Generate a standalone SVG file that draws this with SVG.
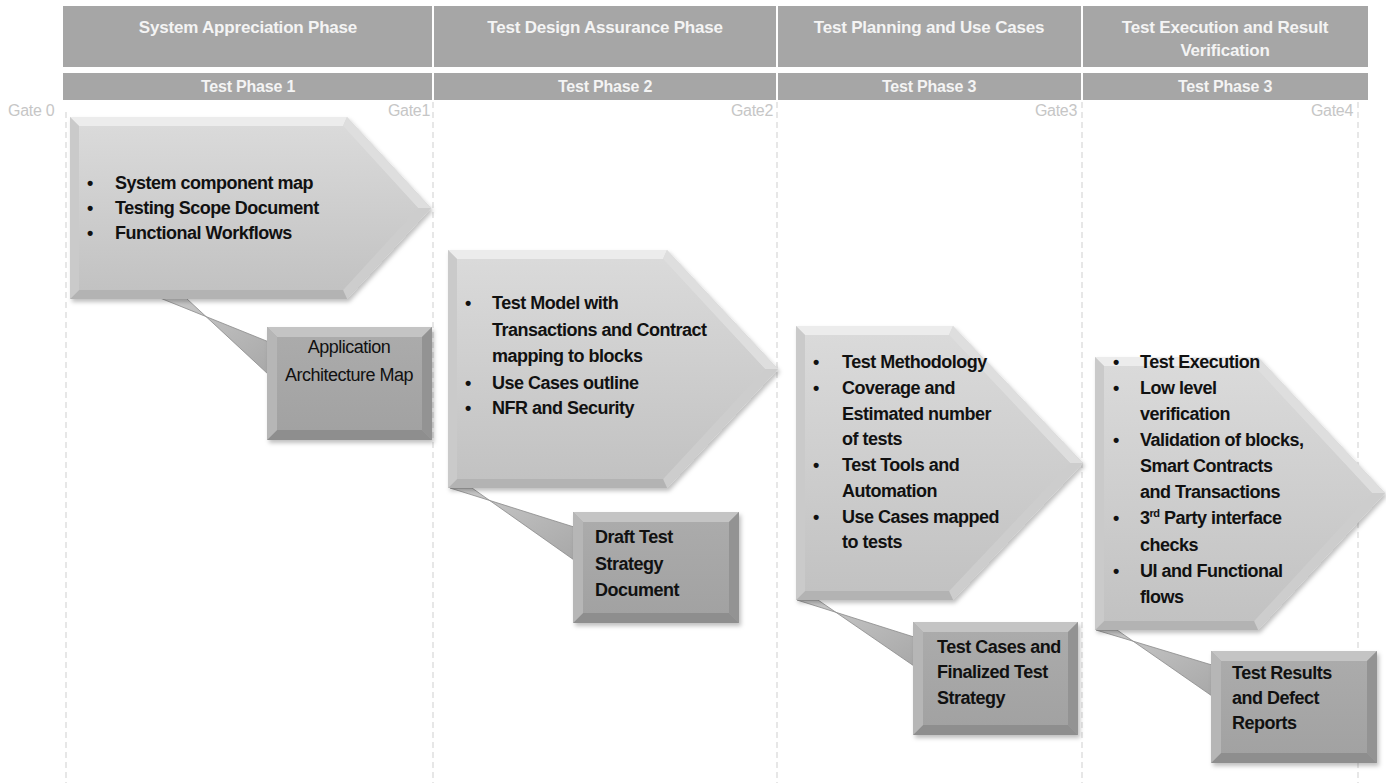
<svg xmlns="http://www.w3.org/2000/svg" width="1386" height="783" viewBox="0 0 1386 783">
<style>
.hdr{fill:#a6a6a6}
.ht{font-family:"Liberation Sans Narrow","Liberation Sans",Arial,sans-serif;font-weight:bold;fill:#f4f4f4;text-anchor:middle;letter-spacing:-0.2px}
.gate{font-family:"Liberation Sans Narrow","Liberation Sans",Arial,sans-serif;font-size:16px;fill:#c6c6c6;letter-spacing:-0.3px}
.dash{stroke:#cfcfcf;stroke-width:1;stroke-dasharray:6 4;fill:none}
.bt{font-family:"Liberation Sans Narrow","Liberation Sans",Arial,sans-serif;font-weight:bold;font-size:18px;fill:#111;letter-spacing:-0.5px}
.pf-top{fill:#ececec}.pf-ur{fill:#dedede}.pf-lr{fill:#cdcdcd}.pf-bot{fill:#b3b3b3}.pf-left{fill:#cacaca}
.bx-top{fill:#c4c4c4}.bx-left{fill:#b6b6b6}.bx-right{fill:#939393}.bx-bot{fill:#8e8e8e}
.tail{fill:url(#gTail);stroke:#8a8a8a;stroke-width:0.8}
</style>
<defs>
<linearGradient id="gFace" x1="0" y1="0" x2="0" y2="1"><stop offset="0" stop-color="#dadada"/><stop offset="1" stop-color="#c2c2c2"/></linearGradient>
<linearGradient id="gBox" x1="0" y1="0" x2="0" y2="1"><stop offset="0" stop-color="#ababab"/><stop offset="1" stop-color="#a2a2a2"/></linearGradient>
<linearGradient id="gTail" x1="0" y1="0" x2="1" y2="1"><stop offset="0" stop-color="#cbcbcb"/><stop offset="1" stop-color="#a8a8a8"/></linearGradient>
<filter id="sh" x="-10%" y="-10%" width="125%" height="125%"><feDropShadow dx="2" dy="3" stdDeviation="2" flood-color="#000" flood-opacity="0.25"/></filter>
</defs>
<rect width="1386" height="783" fill="#ffffff"/>

<g id="header">
<rect class="hdr" x="63" y="6" width="369" height="61"/>
<rect class="hdr" x="434" y="6" width="342" height="61"/>
<rect class="hdr" x="778" y="6" width="303" height="61"/>
<rect class="hdr" x="1083" y="6" width="285" height="61"/>
<rect class="hdr" x="63" y="73" width="369" height="27"/>
<rect class="hdr" x="434" y="73" width="342" height="27"/>
<rect class="hdr" x="778" y="73" width="303" height="27"/>
<rect class="hdr" x="1083" y="73" width="285" height="27"/>
<text class="ht" font-size="17" x="248" y="33">System Appreciation Phase</text>
<text class="ht" font-size="17" x="605" y="33">Test Design Assurance Phase</text>
<text class="ht" font-size="17" x="929" y="33">Test Planning and Use Cases</text>
<text class="ht" font-size="17" x="1225" y="33">Test Execution and Result</text>
<text class="ht" font-size="17" x="1225" y="56">Verification</text>
<text class="ht" font-size="16" x="248" y="92">Test Phase 1</text>
<text class="ht" font-size="16" x="605" y="92">Test Phase 2</text>
<text class="ht" font-size="16" x="929" y="92">Test Phase 3</text>
<text class="ht" font-size="16" x="1225" y="92">Test Phase 3</text>
</g>

<g id="gates">
<line class="dash" x1="66" y1="112" x2="66" y2="783"/>
<line class="dash" x1="433" y1="102" x2="433" y2="783"/>
<line class="dash" x1="777" y1="102" x2="777" y2="783"/>
<line class="dash" x1="1082" y1="102" x2="1082" y2="783"/>
<line class="dash" x1="1358" y1="102" x2="1358" y2="783"/>
<text class="gate" x="8" y="116">Gate 0</text>
<text class="gate" x="430" y="116" text-anchor="end">Gate1</text>
<text class="gate" x="773" y="116" text-anchor="end">Gate2</text>
<text class="gate" x="1077" y="116" text-anchor="end">Gate3</text>
<text class="gate" x="1353" y="116" text-anchor="end">Gate4</text>
</g>

<g id="connectors">
<polygon class="tail" points="160,298 186,298 269,375 269,342"/>
<polygon class="tail" points="450,488 472,488 574,560 574,527"/>
<polygon class="tail" points="797,600 818,600 914,666 914,637"/>
<polygon class="tail" points="1096,630 1117,630 1212,696 1212,665"/>
</g>

<g id="phase1">
<g filter="url(#sh)"><polygon points="70,117 347,117 431,208 347,299 70,299" fill="url(#gFace)"/></g>
<polygon class="pf-top" points="70,117 347,117 343,126 79,126"/>
<polygon class="pf-ur" points="347,117 431,208 418,208 343,126"/>
<polygon class="pf-lr" points="431,208 347,299 343,290 418,208"/>
<polygon class="pf-bot" points="347,299 70,299 79,290 343,290"/>
<polygon class="pf-left" points="70,299 70,117 79,126 79,290"/>
<polygon points="79,126 343,126 418,208 343,290 79,290" fill="url(#gFace)"/>
<text class="bt"><tspan x="87" y="189">•</tspan><tspan x="115" y="189">System component map</tspan><tspan x="87" y="214">•</tspan><tspan x="115" y="214">Testing Scope Document</tspan><tspan x="87" y="239">•</tspan><tspan x="115" y="239">Functional Workflows</tspan></text>
</g>

<g id="phase2">
<g filter="url(#sh)"><polygon points="448,250 667,250 778,369 667,488 448,488" fill="url(#gFace)"/></g>
<polygon class="pf-top" points="448,250 667,250 663,259 457,259"/>
<polygon class="pf-ur" points="667,250 778,369 765,369 663,259"/>
<polygon class="pf-lr" points="778,369 667,488 663,479 765,369"/>
<polygon class="pf-bot" points="667,488 448,488 457,479 663,479"/>
<polygon class="pf-left" points="448,488 448,250 457,259 457,479"/>
<polygon points="457,259 663,259 765,369 663,479 457,479" fill="url(#gFace)"/>
<text class="bt"><tspan x="465" y="309">•</tspan><tspan x="492" y="309">Test Model with</tspan><tspan x="492" y="336">Transactions and Contract</tspan><tspan x="492" y="362">mapping to blocks</tspan><tspan x="465" y="389">•</tspan><tspan x="492" y="389">Use Cases outline</tspan><tspan x="465" y="414">•</tspan><tspan x="492" y="414">NFR and Security</tspan></text>
</g>

<g id="phase3">
<g filter="url(#sh)"><polygon points="796,326 953,326 1083,463 953,600 796,600" fill="url(#gFace)"/></g>
<polygon class="pf-top" points="796,326 953,326 949,335 805,335"/>
<polygon class="pf-ur" points="953,326 1083,463 1070,463 949,335"/>
<polygon class="pf-lr" points="1083,463 953,600 949,591 1070,463"/>
<polygon class="pf-bot" points="953,600 796,600 805,591 949,591"/>
<polygon class="pf-left" points="796,600 796,326 805,335 805,591"/>
<polygon points="805,335 949,335 1070,463 949,591 805,591" fill="url(#gFace)"/>
<text class="bt"><tspan x="813" y="368">•</tspan><tspan x="842" y="368">Test Methodology</tspan><tspan x="813" y="394">•</tspan><tspan x="842" y="394">Coverage and</tspan><tspan x="842" y="420">Estimated number</tspan><tspan x="842" y="445">of tests</tspan><tspan x="813" y="471">•</tspan><tspan x="842" y="471">Test Tools and</tspan><tspan x="842" y="497">Automation</tspan><tspan x="813" y="523">•</tspan><tspan x="842" y="523">Use Cases mapped</tspan><tspan x="842" y="548">to tests</tspan></text>
</g>

<g id="phase4">
<g filter="url(#sh)"><polygon points="1095,357 1258,357 1385,493 1258,630 1095,630" fill="url(#gFace)"/></g>
<polygon class="pf-top" points="1095,357 1258,357 1254,366 1104,366"/>
<polygon class="pf-ur" points="1258,357 1385,493 1372,493 1254,366"/>
<polygon class="pf-lr" points="1385,493 1258,630 1254,621 1372,493"/>
<polygon class="pf-bot" points="1258,630 1095,630 1104,621 1254,621"/>
<polygon class="pf-left" points="1095,630 1095,357 1104,366 1104,621"/>
<polygon points="1104,366 1254,366 1372,493 1254,621 1104,621" fill="url(#gFace)"/>
<text class="bt"><tspan x="1113" y="368">•</tspan><tspan x="1140" y="368">Test Execution</tspan><tspan x="1113" y="394">•</tspan><tspan x="1140" y="394">Low level</tspan><tspan x="1140" y="420">verification</tspan><tspan x="1113" y="446">•</tspan><tspan x="1140" y="446">Validation of blocks,</tspan><tspan x="1140" y="472">Smart Contracts</tspan><tspan x="1140" y="498">and Transactions</tspan><tspan x="1113" y="524">•</tspan><tspan x="1140" y="524">3</tspan><tspan font-size="11" dy="-7">rd</tspan><tspan dy="7"> Party interface</tspan><tspan x="1140" y="551">checks</tspan><tspan x="1113" y="577">•</tspan><tspan x="1140" y="577">UI and Functional</tspan><tspan x="1140" y="603">flows</tspan></text>
</g>

<g id="output1">
<g filter="url(#sh)"><rect x="267" y="327" width="165" height="113" fill="url(#gBox)"/></g>
<polygon class="bx-top" points="267,327 432,327 422,337 277,337"/>
<polygon class="bx-right" points="432,327 432,440 422,430 422,337"/>
<polygon class="bx-bot" points="432,440 267,440 277,430 422,430"/>
<polygon class="bx-left" points="267,440 267,327 277,337 277,430"/>
<rect x="277" y="337" width="145" height="93" fill="url(#gBox)"/>
<text class="bt" style="font-weight:normal" font-size="17" text-anchor="middle"><tspan x="349" y="353">Application</tspan><tspan x="349" y="381">Architecture  Map</tspan></text>
</g>

<g id="output2">
<g filter="url(#sh)"><rect x="573" y="512" width="166" height="111" fill="url(#gBox)"/></g>
<polygon class="bx-top" points="573,512 739,512 729,522 583,522"/>
<polygon class="bx-right" points="739,512 739,623 729,613 729,522"/>
<polygon class="bx-bot" points="739,623 573,623 583,613 729,613"/>
<polygon class="bx-left" points="573,623 573,512 583,522 583,613"/>
<rect x="583" y="522" width="146" height="91" fill="url(#gBox)"/>
<text class="bt"><tspan x="595" y="543">Draft Test</tspan><tspan x="595" y="570">Strategy</tspan><tspan x="595" y="596">Document</tspan></text>
</g>

<g id="output3">
<g filter="url(#sh)"><rect x="913" y="622" width="165" height="113" fill="url(#gBox)"/></g>
<polygon class="bx-top" points="913,622 1078,622 1068,632 923,632"/>
<polygon class="bx-right" points="1078,622 1078,735 1068,725 1068,632"/>
<polygon class="bx-bot" points="1078,735 913,735 923,725 1068,725"/>
<polygon class="bx-left" points="913,735 913,622 923,632 923,725"/>
<rect x="923" y="632" width="145" height="93" fill="url(#gBox)"/>
<text class="bt"><tspan x="937" y="653">Test Cases and</tspan><tspan x="937" y="678">Finalized Test</tspan><tspan x="937" y="704">Strategy</tspan></text>
</g>

<g id="output4">
<g filter="url(#sh)"><rect x="1211" y="651" width="166" height="112" fill="url(#gBox)"/></g>
<polygon class="bx-top" points="1211,651 1377,651 1367,661 1221,661"/>
<polygon class="bx-right" points="1377,651 1377,763 1367,753 1367,661"/>
<polygon class="bx-bot" points="1377,763 1211,763 1221,753 1367,753"/>
<polygon class="bx-left" points="1211,763 1211,651 1221,661 1221,753"/>
<rect x="1221" y="661" width="146" height="92" fill="url(#gBox)"/>
<text class="bt"><tspan x="1232" y="679">Test Results</tspan><tspan x="1232" y="704">and Defect</tspan><tspan x="1232" y="729">Reports</tspan></text>
</g>
</svg>
